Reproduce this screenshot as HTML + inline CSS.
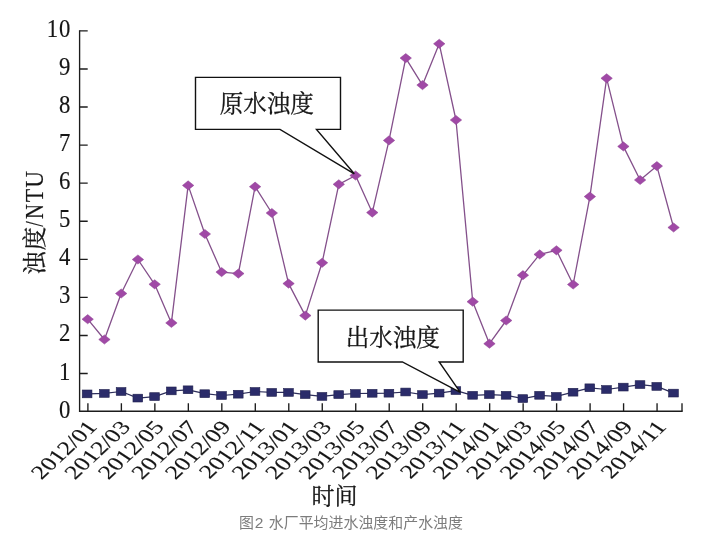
<!DOCTYPE html>
<html lang="zh"><head><meta charset="utf-8"><title>图2 水厂平均进水浊度和产水浊度</title>
<style>html,body{margin:0;padding:0;background:#fff;}body{width:724px;height:546px;overflow:hidden;}svg{display:block;will-change:transform;filter:blur(0.35px);}text{font-family:"Liberation Serif",serif;fill:#161616;stroke:#161616;stroke-width:.16px;}</style></head><body>
<svg width="724" height="546" viewBox="0 0 724 546">
<rect width="724" height="546" fill="#fff"/>
<polyline points="87.7,319.2 104.44,339.5 121.18,293.5 137.92,259.5 154.66,284.3 171.4,322.9 188.14,185.4 204.88,234 221.62,272.1 238.36,273.6 255.1,186.7 271.84,213 288.58,283.6 305.32,315.6 322.06,262.8 338.8,184.3 355.54,175.5 372.28,212.6 389.02,140.4 405.76,58.1 422.5,85.1 439.24,43.8 455.98,120 472.72,301.7 489.46,343.7 506.2,320.5 522.94,275.2 539.68,254.4 556.42,250.3 573.16,284.5 589.9,196.6 606.64,78.3 623.38,146.4 640.12,180 656.86,166.1 673.6,227.5" fill="none" stroke="#84508b" stroke-width="1.3" stroke-linejoin="round"/>
<g fill="#a049a6" stroke="#8a3f90" stroke-width="0.5">
<path d="M82 319.2L87.7 314.6L93.4 319.2L87.7 323.8Z"/>
<path d="M98.74 339.5L104.44 334.9L110.14 339.5L104.44 344.1Z"/>
<path d="M115.48 293.5L121.18 288.9L126.88 293.5L121.18 298.1Z"/>
<path d="M132.22 259.5L137.92 254.9L143.62 259.5L137.92 264.1Z"/>
<path d="M148.96 284.3L154.66 279.7L160.36 284.3L154.66 288.9Z"/>
<path d="M165.7 322.9L171.4 318.3L177.1 322.9L171.4 327.5Z"/>
<path d="M182.44 185.4L188.14 180.8L193.84 185.4L188.14 190Z"/>
<path d="M199.18 234L204.88 229.4L210.58 234L204.88 238.6Z"/>
<path d="M215.92 272.1L221.62 267.5L227.32 272.1L221.62 276.7Z"/>
<path d="M232.66 273.6L238.36 269L244.06 273.6L238.36 278.2Z"/>
<path d="M249.4 186.7L255.1 182.1L260.8 186.7L255.1 191.3Z"/>
<path d="M266.14 213L271.84 208.4L277.54 213L271.84 217.6Z"/>
<path d="M282.88 283.6L288.58 279L294.28 283.6L288.58 288.2Z"/>
<path d="M299.62 315.6L305.32 311L311.02 315.6L305.32 320.2Z"/>
<path d="M316.36 262.8L322.06 258.2L327.76 262.8L322.06 267.4Z"/>
<path d="M333.1 184.3L338.8 179.7L344.5 184.3L338.8 188.9Z"/>
<path d="M349.84 175.5L355.54 170.9L361.24 175.5L355.54 180.1Z"/>
<path d="M366.58 212.6L372.28 208L377.98 212.6L372.28 217.2Z"/>
<path d="M383.32 140.4L389.02 135.8L394.72 140.4L389.02 145Z"/>
<path d="M400.06 58.1L405.76 53.5L411.46 58.1L405.76 62.7Z"/>
<path d="M416.8 85.1L422.5 80.5L428.2 85.1L422.5 89.7Z"/>
<path d="M433.54 43.8L439.24 39.2L444.94 43.8L439.24 48.4Z"/>
<path d="M450.28 120L455.98 115.4L461.68 120L455.98 124.6Z"/>
<path d="M467.02 301.7L472.72 297.1L478.42 301.7L472.72 306.3Z"/>
<path d="M483.76 343.7L489.46 339.1L495.16 343.7L489.46 348.3Z"/>
<path d="M500.5 320.5L506.2 315.9L511.9 320.5L506.2 325.1Z"/>
<path d="M517.24 275.2L522.94 270.6L528.64 275.2L522.94 279.8Z"/>
<path d="M533.98 254.4L539.68 249.8L545.38 254.4L539.68 259Z"/>
<path d="M550.72 250.3L556.42 245.7L562.12 250.3L556.42 254.9Z"/>
<path d="M567.46 284.5L573.16 279.9L578.86 284.5L573.16 289.1Z"/>
<path d="M584.2 196.6L589.9 192L595.6 196.6L589.9 201.2Z"/>
<path d="M600.94 78.3L606.64 73.7L612.34 78.3L606.64 82.9Z"/>
<path d="M617.68 146.4L623.38 141.8L629.08 146.4L623.38 151Z"/>
<path d="M634.42 180L640.12 175.4L645.82 180L640.12 184.6Z"/>
<path d="M651.16 166.1L656.86 161.5L662.56 166.1L656.86 170.7Z"/>
<path d="M667.9 227.5L673.6 222.9L679.3 227.5L673.6 232.1Z"/>
</g>
<polyline points="87.7,393.9 104.44,393.4 121.18,391.5 137.92,398.1 154.66,396.6 171.4,390.9 188.14,389.8 204.88,393.7 221.62,395.5 238.36,394.2 255.1,391.5 271.84,392.4 288.58,392.4 305.32,394.6 322.06,396.4 338.8,394.6 355.54,393.5 372.28,393.3 389.02,393.2 405.76,392 422.5,394.6 439.24,393.1 455.98,390.6 472.72,395.3 489.46,394.6 506.2,395.3 522.94,398.6 539.68,395.3 556.42,396.4 573.16,392.2 589.9,387.8 606.64,389.5 623.38,387.1 640.12,384.6 656.86,386.4 673.6,393.1" fill="none" stroke="#2e2f5c" stroke-width="1.25" stroke-linejoin="round"/>
<g fill="#2b2c6a" stroke="#20214e" stroke-width="0.6">
<rect x="82.25" y="390" width="9.7" height="7.8"/>
<rect x="99.49" y="389.5" width="9.7" height="7.8"/>
<rect x="116.23" y="387.6" width="9.7" height="7.8"/>
<rect x="132.97" y="394.2" width="9.7" height="7.8"/>
<rect x="149.71" y="392.7" width="9.7" height="7.8"/>
<rect x="166.45" y="387" width="9.7" height="7.8"/>
<rect x="183.19" y="385.9" width="9.7" height="7.8"/>
<rect x="199.93" y="389.8" width="9.7" height="7.8"/>
<rect x="216.67" y="391.6" width="9.7" height="7.8"/>
<rect x="233.41" y="390.3" width="9.7" height="7.8"/>
<rect x="250.15" y="387.6" width="9.7" height="7.8"/>
<rect x="266.89" y="388.5" width="9.7" height="7.8"/>
<rect x="283.63" y="388.5" width="9.7" height="7.8"/>
<rect x="300.37" y="390.7" width="9.7" height="7.8"/>
<rect x="317.11" y="392.5" width="9.7" height="7.8"/>
<rect x="333.85" y="390.7" width="9.7" height="7.8"/>
<rect x="350.59" y="389.6" width="9.7" height="7.8"/>
<rect x="367.33" y="389.4" width="9.7" height="7.8"/>
<rect x="384.07" y="389.3" width="9.7" height="7.8"/>
<rect x="400.81" y="388.1" width="9.7" height="7.8"/>
<rect x="417.55" y="390.7" width="9.7" height="7.8"/>
<rect x="434.29" y="389.2" width="9.7" height="7.8"/>
<rect x="451.03" y="386.7" width="9.7" height="7.8"/>
<rect x="467.77" y="391.4" width="9.7" height="7.8"/>
<rect x="484.51" y="390.7" width="9.7" height="7.8"/>
<rect x="501.25" y="391.4" width="9.7" height="7.8"/>
<rect x="517.99" y="394.7" width="9.7" height="7.8"/>
<rect x="534.73" y="391.4" width="9.7" height="7.8"/>
<rect x="551.47" y="392.5" width="9.7" height="7.8"/>
<rect x="568.21" y="388.3" width="9.7" height="7.8"/>
<rect x="584.95" y="383.9" width="9.7" height="7.8"/>
<rect x="601.69" y="385.6" width="9.7" height="7.8"/>
<rect x="618.43" y="383.2" width="9.7" height="7.8"/>
<rect x="635.17" y="380.7" width="9.7" height="7.8"/>
<rect x="651.91" y="382.5" width="9.7" height="7.8"/>
<rect x="668.65" y="389.2" width="9.7" height="7.8"/>
</g>
<g stroke="#1c1c1c" stroke-width="1.35" fill="none" stroke-linecap="square">
<path d="M79.6 30.9V411.25H682"/>
</g>
<g stroke="#1c1c1c" stroke-width="1.35" fill="none">
<path d="M79.6 373.53h8.1M79.6 335.46h8.1M79.6 297.39h8.1M79.6 259.32h8.1M79.6 221.25h8.1M79.6 183.18h8.1M79.6 145.11h8.1M79.6 107.04h8.1M79.6 68.97h8.1M79.6 30.9h8.1M87.9 411.25v-8M121.38 411.25v-8M154.86 411.25v-8M188.34 411.25v-8M221.82 411.25v-8M255.3 411.25v-8M288.78 411.25v-8M322.26 411.25v-8M355.74 411.25v-8M389.22 411.25v-8M422.7 411.25v-8M456.18 411.25v-8M489.66 411.25v-8M523.14 411.25v-8M556.62 411.25v-8M590.1 411.25v-8M623.58 411.25v-8M657.06 411.25v-8M682 411.25v-8"/>
</g>
<g font-size="24.7" text-anchor="end">
<text transform="translate(70.4 417.6) scale(0.92 1)">0</text>
<text transform="translate(70.4 379.53) scale(0.92 1)">1</text>
<text transform="translate(70.4 341.46) scale(0.92 1)">2</text>
<text transform="translate(70.4 303.39) scale(0.92 1)">3</text>
<text transform="translate(70.4 265.32) scale(0.92 1)">4</text>
<text transform="translate(70.4 227.25) scale(0.92 1)">5</text>
<text transform="translate(70.4 189.18) scale(0.92 1)">6</text>
<text transform="translate(70.4 151.11) scale(0.92 1)">7</text>
<text transform="translate(70.4 113.04) scale(0.92 1)">8</text>
<text transform="translate(70.4 74.97) scale(0.92 1)">9</text>
<text transform="translate(71.2 36.9) scale(0.92 1)" letter-spacing="0.9">10</text>
</g>
<g font-size="25" text-anchor="end">
<text transform="matrix(0.6926 -0.6414 0.7296 0.4921 98.2 427.6)">2012/01</text>
<text transform="matrix(0.6926 -0.6414 0.7296 0.4921 131.68 427.6)">2012/03</text>
<text transform="matrix(0.6926 -0.6414 0.7296 0.4921 165.16 427.6)">2012/05</text>
<text transform="matrix(0.6926 -0.6414 0.7296 0.4921 198.64 427.6)">2012/07</text>
<text transform="matrix(0.6926 -0.6414 0.7296 0.4921 232.12 427.6)">2012/09</text>
<text transform="matrix(0.6926 -0.6414 0.7296 0.4921 265.6 427.6)">2012/11</text>
<text transform="matrix(0.6926 -0.6414 0.7296 0.4921 299.08 427.6)">2013/01</text>
<text transform="matrix(0.6926 -0.6414 0.7296 0.4921 332.56 427.6)">2013/03</text>
<text transform="matrix(0.6926 -0.6414 0.7296 0.4921 366.04 427.6)">2013/05</text>
<text transform="matrix(0.6926 -0.6414 0.7296 0.4921 399.52 427.6)">2013/07</text>
<text transform="matrix(0.6926 -0.6414 0.7296 0.4921 433 427.6)">2013/09</text>
<text transform="matrix(0.6926 -0.6414 0.7296 0.4921 466.48 427.6)">2013/11</text>
<text transform="matrix(0.6926 -0.6414 0.7296 0.4921 499.96 427.6)">2014/01</text>
<text transform="matrix(0.6926 -0.6414 0.7296 0.4921 533.44 427.6)">2014/03</text>
<text transform="matrix(0.6926 -0.6414 0.7296 0.4921 566.92 427.6)">2014/05</text>
<text transform="matrix(0.6926 -0.6414 0.7296 0.4921 600.4 427.6)">2014/07</text>
<text transform="matrix(0.6926 -0.6414 0.7296 0.4921 633.88 427.6)">2014/09</text>
<text transform="matrix(0.6926 -0.6414 0.7296 0.4921 667.36 427.6)">2014/11</text>
</g>
<g stroke="#111" stroke-width="1.4" fill="#fff" stroke-linejoin="miter">
<path d="M195.5 77.35H340.5V129.35H316.5L354.3 173.8L280 129.35H195.5Z"/>
<path d="M318.2 310.15H463.2V362H439.2L460.3 392.4L402.4 362H318.2Z"/>
</g>
<text x="219.65" y="111.82" font-size="23.5" style="font-family:'Liberation Serif','Noto Serif CJK SC',serif;stroke-width:.3px">原水浊度</text>
<text x="345.77" y="345.77" font-size="23.5" style="font-family:'Liberation Serif','Noto Serif CJK SC',serif;stroke-width:.3px">出水浊度</text>
<g transform="rotate(-90)">
<text x="-274.74" y="42.85" font-size="23.4" style="font-family:'Liberation Serif','Noto Serif CJK SC',serif;stroke-width:.3px">浊</text>
<text x="-250.27" y="42.99" font-size="23.4" style="font-family:'Liberation Serif','Noto Serif CJK SC',serif;stroke-width:.3px">度</text>
<text transform="translate(-226.7 42.9) scale(0.82 1)" font-size="24.5">/</text>
<text transform="translate(-219.1 42.9) scale(0.85 1)" font-size="24.5">N</text>
<text transform="translate(-202.3 42.9) scale(0.9 1)" font-size="24.5">T</text>
<text transform="translate(-187.69 42.9) scale(0.95 1)" font-size="24.5">U</text>
</g>
<text x="311.45" y="504.2" font-size="23" style="font-family:'Liberation Serif','Noto Serif CJK SC',serif;stroke-width:.3px">时间</text>
<text x="239.04" y="527.6" font-size="14.95" style="font-family:'Liberation Sans','Noto Sans CJK SC',sans-serif;fill:#7c7c7c;stroke:none">图</text>
<text x="254.78" y="527.6" font-size="15.55" style="font-family:'Liberation Sans','Noto Sans CJK SC',sans-serif;fill:#7c7c7c;stroke:none">2</text>
<text x="268.82" y="527.6" font-size="14.95" style="font-family:'Liberation Sans','Noto Sans CJK SC',sans-serif;fill:#7c7c7c;stroke:none">水厂平均进水浊度和产水浊度</text>
</svg></body></html>
